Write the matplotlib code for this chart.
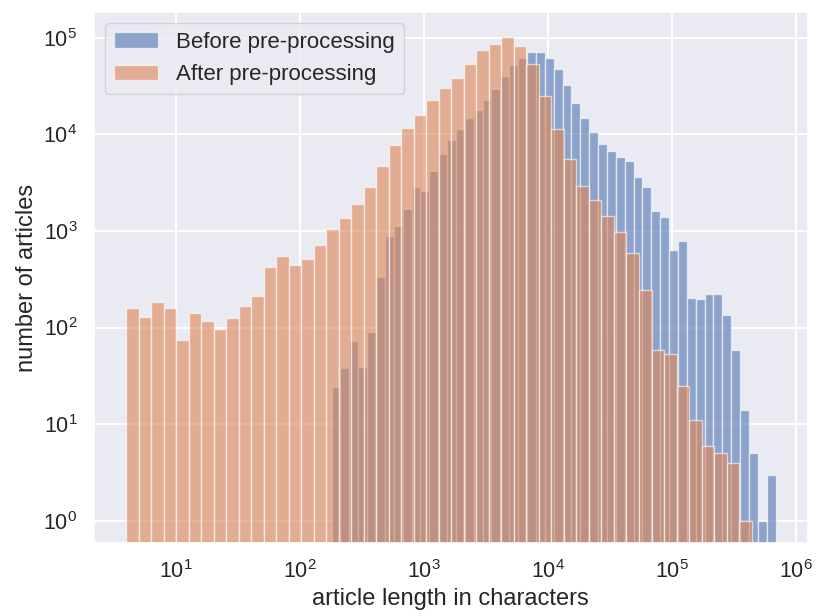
import numpy as np
import matplotlib
matplotlib.use("Agg")
import matplotlib.pyplot as plt
import seaborn as sns
from matplotlib.ticker import FuncFormatter, LogLocator, NullLocator

# ---- data ----
before_min, before_max = 179.0, 682000.0
after_min, after_max = 3.95, 436000.0
n_bins = 50

before_counts = [24, 38, 73, 39, 90, 333, 883, 1121, 1700, 2838,
                 2580, 4160, 6300, 8790, 11250, 14860, 18100, 22800, 29650, 40400,
                 52100, 62500, 71600, 71600, 62500, 47800, 32600, 21000, 14860, 10640,
                 8000, 6810, 5810, 5240, 3580, 2870, 1620, 1390, 628, 792,
                 203, 197, 222, 222, 136, 58, 14, 5, 1, 3]
after_counts = [160, 130, 186, 159, 75, 142, 118, 97, 125, 168,
                213, 419, 548, 447, 515, 708, 1054, 1370, 1893, 2838,
                4760, 7675, 11700, 15950, 22800, 30000, 38800, 53300, 75200, 85900,
                103000, 82600, 53300, 25100, 11300, 5500, 2910, 2085, 1413, 965,
                589, 242, 58, 53, 25, 11, 6, 5, 4, 1]
labels = ["Before pre-processing", "After pre-processing"]

sns.set_theme(style="darkgrid", rc={"grid.linewidth": 1.4})
plt.rcParams['font.family'] = ['Liberation Sans', 'DejaVu Sans']

fig = plt.figure(figsize=(8.17, 6.16), dpi=100)
ax = fig.add_axes([0.115, 0.118, 0.8736, 0.8625])

def draw(vmin, vmax, counts, color, label):
    edges = np.logspace(np.log10(vmin), np.log10(vmax), n_bins + 1)
    centers = np.sqrt(edges[:-1] * edges[1:])
    ax.hist(centers, bins=edges, weights=counts, color=color, alpha=0.6,
            label=label, edgecolor="white", linewidth=1.0)

draw(before_min, before_max, before_counts, "#4C72B0", labels[0])
draw(after_min, after_max, after_counts, "#DD8452", labels[1])

ax.set_xscale("log")
ax.set_yscale("log")
ax.set_xlim(2.17, 1.236e6)
ax.set_ylim(0.583, 1.85e5)

ax.xaxis.set_major_locator(LogLocator(base=10, numticks=20))
ax.xaxis.set_minor_locator(NullLocator())
ax.yaxis.set_major_locator(LogLocator(base=10, numticks=20))
ax.yaxis.set_minor_locator(NullLocator())
ax.yaxis.set_major_formatter(FuncFormatter(
    lambda v, p: r"$\mathregular{10^{%d}}$" % int(round(np.log10(v)))))

ax.tick_params(axis="x", labelsize=15.5, pad=6)
ax.tick_params(axis="y", labelsize=15.5, pad=6)

ax.set_xlabel("article length in characters", fontsize=17)
ax.set_ylabel("number of articles", fontsize=17)

ax.legend(loc="upper left", fontsize=16, borderaxespad=0.5)

fig.savefig("out.png", dpi=100)
